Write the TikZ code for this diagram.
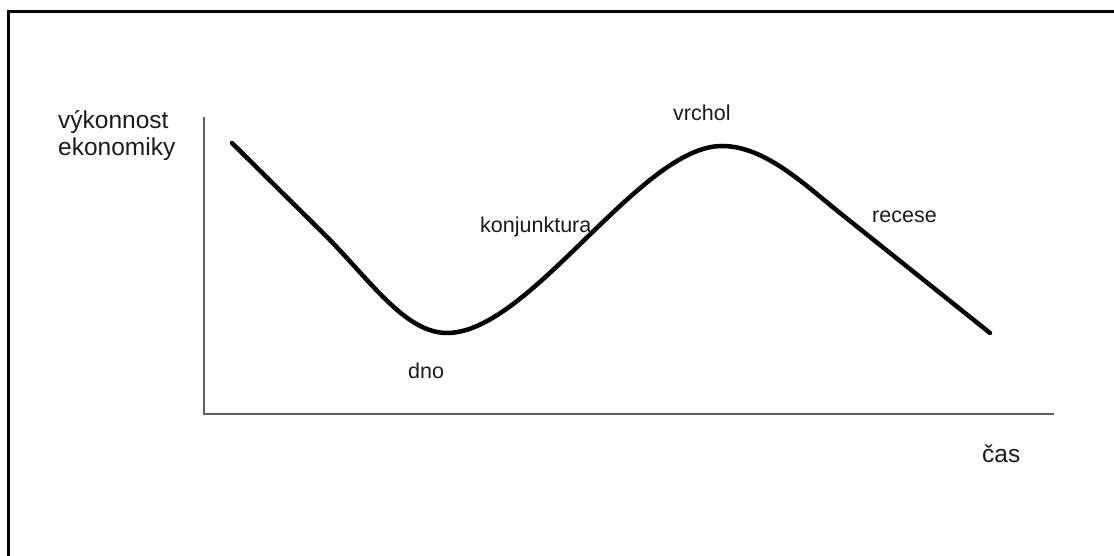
\documentclass[tikz,border=0pt]{standalone}
\usepackage{fontspec}
\setmainfont{Liberation Sans}
\definecolor{axisgray}{HTML}{606060}
\definecolor{txt}{HTML}{1A1A1A}
\begin{document}
\begin{tikzpicture}[x=1pt,y=1pt,
  axis/.style={draw=axisgray,line width=2pt},
  wave/.style={draw=black,line width=4.5pt,line cap=round,line join=round},
  frameline/.style={draw=black,line width=3pt},
  axislabel/.style={text=txt,font=\fontsize{24.5}{27}\selectfont,inner sep=0pt},
  phaselabel/.style={text=txt,font=\fontsize{21.5}{25}\selectfont,inner sep=0pt,anchor=base west}]
\useasboundingbox (0,0) rectangle (1114,556);
% frame (top and left edges)
\coordinate (fTL) at (8.5,544);
\coordinate (fTR) at (1114,544);
\coordinate (fBL) at (8.5,0);
\draw[frameline] (fTR) -- (fTL) -- (fBL);
% axes
\coordinate (ytop) at (204,439);
\coordinate (origin) at (204,142);
\coordinate (xend) at (1054,142);
\draw[axis] (ytop) -- (origin) -- (xend);
% cycle curve
\coordinate (start) at (232,413);
\coordinate (a1) at (325,321);
\coordinate (dnoPt) at (447,223);
\coordinate (peak) at (722,410);
\coordinate (r1) at (840,343);
\coordinate (endPt) at (990,223);
\draw[wave] (start) -- (a1)
  .. controls (370,276) and (405,223) .. (dnoPt)
  .. controls (530,223) and (640,410) .. (peak)
  .. controls (765,410) and (805,371) .. (r1)
  -- (endPt);
% labels
\node[axislabel,anchor=north west,align=left] (ylab) at (58,446) {výkonnost\\ekonomiky};
\node[axislabel,anchor=base west] (xlab) at (982,93) {čas};
\node[phaselabel] (vrchol) at (673,435) {vrchol};
\node[phaselabel] (konj) at (480,323) {konjunktura};
\node[phaselabel] (dno) at (408,177) {dno};
\node[phaselabel] (recese) at (872,333) {recese};
\end{tikzpicture}
\end{document}
